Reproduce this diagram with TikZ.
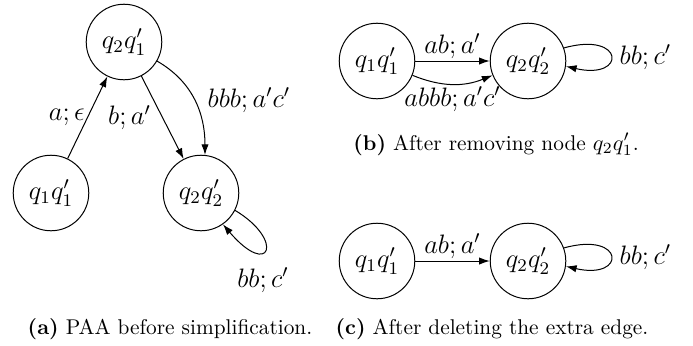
\documentclass[tikz,border=0pt]{standalone}
\usetikzlibrary{arrows.meta}
\begin{document}
\begin{tikzpicture}[x=0.45pt, y=0.45pt,
  st/.style={circle, draw, line width=0.45pt, minimum size=34pt, inner sep=0pt, font=\fontsize{12}{14}\selectfont},
  ed/.style={-{Latex[length=4.8pt,width=3.3pt]}, line width=0.45pt},
  lb/.style={inner sep=1pt, font=\fontsize{12}{14}\selectfont},
  captxt/.style={inner sep=0pt, anchor=base, font=\fontsize{9.6}{12}\selectfont}]
\useasboundingbox (0,0) rectangle (693,-345);
% (a)
\node[st] (a1) at (124,-42) {$q_2q'_1$};
\node[st] (a0) at (51,-193) {$q_1q'_1$};
\node[st] (a2) at (201,-193) {$q_2q'_2$};
\draw[ed] (a0) -- node[lb, left] (la) {$a;\epsilon$} (a1);
\draw[ed] (a1) -- node[lb, left=4pt] (lb1) {$b;a'$} (a2);
\draw[ed] (a1.-30) to[out=-30, in=90] (a2.84);
\node[lb, anchor=west] (lc) at (205,-100) {$bbb;a'c'$};
\draw[ed] (a2.-27) .. controls +(50,-30) and +(47,-55) .. (a2.-55);
\node[lb] (ld) at (263,-280) {$bb;c'$};
\node[captxt] (capa) at (170,-334) {\textbf{(a)} PAA before simplification.};
% (b)
\node[st] (b0) at (377,-61) {$q_1q'_1$};
\node[st] (b2) at (528,-61) {$q_2q'_2$};
\draw[ed] (b0) -- node[lb, above] (le) {$ab;a'$} (b2);
\draw[ed] (b0) to[bend right=22] node[lb, below] (lf) {$abbb;a'c'$} (b2);
\draw[ed] (b2.20) .. controls +(61,17) and +(61,-14) .. (b2.-8);
\node[lb, anchor=west] (lg) at (617,-57) {$bb;c'$};
\node[captxt] (capb) at (496,-150) {\textbf{(b)} After removing node $q_2q'_1$.};
% (c)
\node[st] (c0) at (377,-261) {$q_1q'_1$};
\node[st] (c2) at (528,-261) {$q_2q'_2$};
\draw[ed] (c0) -- node[lb, above] (lh) {$ab;a'$} (c2);
\draw[ed] (c2.20) .. controls +(61,17) and +(61,-14) .. (c2.-8);
\node[lb, anchor=west] (li) at (617,-257) {$bb;c'$};
\node[captxt] (capc) at (492,-334) {\textbf{(c)} After deleting the extra edge.};
\end{tikzpicture}
\end{document}
